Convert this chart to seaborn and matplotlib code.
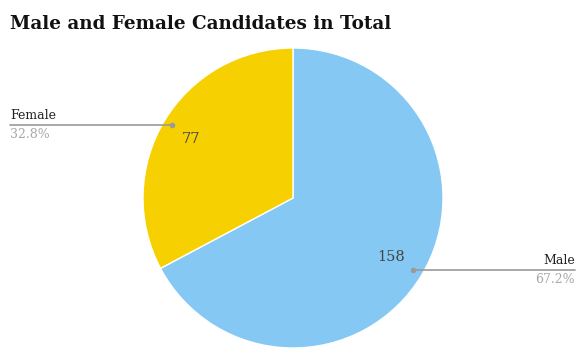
import matplotlib.pyplot as plt
import seaborn as sns

sns.set_theme(style="white")
plt.rcParams['font.family'] = ['DejaVu Serif']

labels = ['Male', 'Female']
counts = [158, 77]
colors = ['#84C8F3', '#F6D000']

W, H = 587, 356
fig = plt.figure(figsize=(W / 100, H / 100), dpi=100)
ax = fig.add_axes([0, 0, 1, 1])

cx, cy, r = 293, H - 198, 150
total = sum(counts)

# pie starts at 12 o'clock and runs clockwise
wedges, texts = ax.pie(counts, colors=colors, startangle=90, counterclock=False,
                       center=(cx, cy), radius=r, frame=True,
                       wedgeprops=dict(edgecolor='white', linewidth=1))
ax.set_xlim(0, W)
ax.set_ylim(0, H)
ax.set_aspect('equal')
ax.axis('off')

# value labels inside the slices
ax.text(391, H - 257, str(counts[0]), ha='center', va='center', fontsize=10.5, color='#444444')
ax.text(191, H - 139, str(counts[1]), ha='center', va='center', fontsize=10.5, color='#444444')

# leader lines with category and share
line_c = '#9a9a9a'
# Female (left)
ax.plot([10, 172], [H - 125, H - 125], color=line_c, lw=1.2)
ax.plot(172, H - 125, 'o', color=line_c, ms=3)
ax.text(10, H - 122, labels[1], ha='left', va='bottom', fontsize=9, color='#222222')
ax.text(10, H - 128, f'{counts[1] / total * 100:.1f}%', ha='left', va='top',
        fontsize=9, color='#a8a8a8')
# Male (right)
ax.plot([413, 575], [H - 270, H - 270], color=line_c, lw=1.2)
ax.plot(413, H - 270, 'o', color=line_c, ms=3)
ax.text(575, H - 267, labels[0], ha='right', va='bottom', fontsize=9, color='#222222')
ax.text(575, H - 273, f'{counts[0] / total * 100:.1f}%', ha='right', va='top',
        fontsize=9, color='#a8a8a8')

ax.text(10, H - 24, 'Male and Female Candidates in Total', ha='left', va='center',
        fontsize=13.2, fontweight='bold', color='#111111')

fig.savefig('out.png', dpi=100)
